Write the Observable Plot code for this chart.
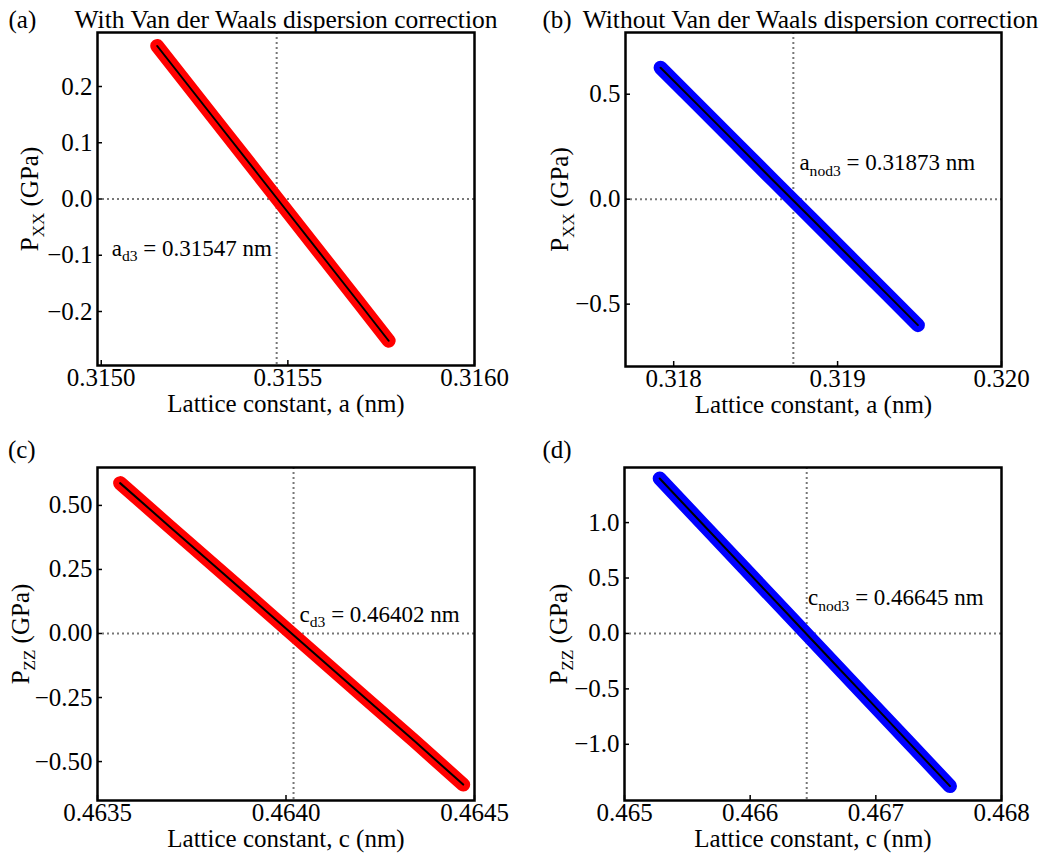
<!DOCTYPE html>
<html>
<head>
<meta charset="utf-8">
<script src="https://cdn.jsdelivr.net/npm/d3@7"></script>
<script src="https://cdn.jsdelivr.net/npm/@observablehq/plot@0.6"></script>
<style>
  html, body { margin: 0; padding: 0; background: #fff; }
  #root { position: relative; width: 1053px; height: 857px; background: #fff; overflow: hidden; }
  #root svg { position: absolute; overflow: visible; font-family: "Liberation Serif", serif; }
  #root svg text, #root svg tspan { font-family: "Liberation Serif", serif; }
</style>
</head>
<body>
<div id="root"></div>
<script>
// ---- data ----
// (a) with D3 correction, lattice constant a
const aD3X = [0.31515, 0.31524, 0.31533, 0.31542, 0.31551, 0.31560, 0.31569, 0.31577];
const aD3P = [0.272, 0.196, 0.120, 0.044, -0.032, -0.108, -0.184, -0.252];
// (b) without D3 correction, lattice constant a
const aNoD3X = [0.31792, 0.31815, 0.31838, 0.31861, 0.31884, 0.31907, 0.31930, 0.31949];
const aNoD3P = [0.626, 0.447, 0.267, 0.087, -0.092, -0.272, -0.451, -0.600];
// (c) with D3 correction, lattice constant c
const cD3X = [0.46356, 0.46369, 0.46382, 0.46395, 0.46408, 0.46421, 0.46434, 0.46447];
const cD3P = [0.587, 0.419, 0.252, 0.084, -0.084, -0.252, -0.419, -0.590];
// (d) without D3 correction, lattice constant c
const cNoD3X = [0.46528, 0.46561, 0.46594, 0.46627, 0.46660, 0.46693, 0.46726, 0.46759];
const cNoD3P = [1.398, 1.001, 0.605, 0.209, -0.188, -0.584, -0.980, -1.377];

// equilibrium lattice constants (zero-pressure points)
const equilibrium = [0.31547, 0.31873, 0.46402, 0.46645];
const annotations = ["a_{d3} = 0.31547 nm", "a_{nod3} = 0.31873 nm", "c_{d3} = 0.46402 nm", "c_{nod3} = 0.46645 nm"];

// tick values
const xTicksA = [0.3150, 0.3155, 0.3160];
const yTicksA = [-0.2, -0.1, 0.0, 0.1, 0.2];
const xTicksB = [0.318, 0.319, 0.320];
const yTicksB = [-0.5, 0.0, 0.5];
const xTicksC = [0.4635, 0.4640, 0.4645];
const yTicksC = [-0.50, -0.25, 0.00, 0.25, 0.50];
const xTicksD = [0.465, 0.466, 0.467, 0.468];
const yTicksD = [-1.0, -0.5, 0.0, 0.5, 1.0];

const letters = ["(a)", "(b)", "(c)", "(d)"];
const titles = ["With Van der Waals dispersion correction", "Without Van der Waals dispersion correction", "", ""];
const xLabels = ["Lattice constant, a (nm)", "Lattice constant, a (nm)", "Lattice constant, c (nm)", "Lattice constant, c (nm)"];
const yLabels = ["P_{XX} (GPa)", "P_{XX} (GPa)", "P_{ZZ} (GPa)", "P_{ZZ} (GPa)"];

// ---- drawing ----
const FONT = "Liberation Serif, serif";
const dotted = {stroke: "#777777", strokeWidth: 2, strokeDasharray: "2,3"};

function subify(svg) {
  svg.querySelectorAll("text").forEach(t => {
    const s = t.textContent;
    if (!s.includes("_{")) return;
    const fs = parseFloat(t.getAttribute("font-size") || t.parentNode.getAttribute("font-size") || 25);
    const shift = fs * 0.24;
    while (t.firstChild) t.removeChild(t.firstChild);
    const re = /_\{([^}]*)\}/g;
    let last = 0, m;
    const ns = "http://www.w3.org/2000/svg";
    while ((m = re.exec(s))) {
      if (m.index > last) {
        const a = document.createElementNS(ns, "tspan");
        a.textContent = s.slice(last, m.index);
        t.appendChild(a);
      }
      const sub = document.createElementNS(ns, "tspan");
      sub.textContent = m[1];
      sub.setAttribute("font-size", (fs * 0.68).toFixed(1));
      sub.setAttribute("dy", shift.toFixed(1));
      t.appendChild(sub);
      last = re.lastIndex;
      const rest = document.createElementNS(ns, "tspan");
      rest.setAttribute("dy", (-shift).toFixed(1));
      rest.textContent = s.slice(last).split("_{")[0];
      t.appendChild(rest);
      last += rest.textContent.length;
      re.lastIndex = last;
    }
  });
}

function panel(p) {
  const data = p.xs.map((x, i) => ({x, y: p.ys[i]}));
  const fw = p.width - p.ml - p.mr;
  const fh = p.height - p.mt - p.mb;
  const svg = Plot.plot({
    width: p.width, height: p.height,
    marginLeft: p.ml, marginRight: p.mr, marginTop: p.mt, marginBottom: p.mb,
    style: {fontFamily: FONT, fontSize: "25px", background: "white", color: "black"},
    x: {domain: p.xDomain, label: null, axis: null},
    y: {domain: p.yDomain, label: null, axis: null},
    marks: [
      Plot.ruleX([p.x0], {x: d => d, ...dotted}),
      Plot.ruleY([0], {y: d => d, ...dotted}),
      Plot.line(data, {x: "x", y: "y", stroke: p.color, strokeWidth: 14, strokeLinecap: "round", strokeLinejoin: "round"}),
      Plot.line(data, {x: "x", y: "y", stroke: "black", strokeWidth: 2}),
      Plot.frame({stroke: "black", strokeWidth: 2.5}),
      Plot.tickX(p.xTicks, {x: d => d, insetTop: fh - 5, stroke: "black", strokeWidth: 1.5}),
      Plot.tickY(p.yTicks, {y: d => d, insetRight: fw - 5, stroke: "black", strokeWidth: 1.5}),
      Plot.axisX(p.xTicks, {tickSize: 0, tickPadding: 3, tickFormat: d3.format(p.xFmt), label: null, fontSize: 25, fontFamily: FONT}),
      Plot.axisY(p.yTicks, {tickSize: 0, tickPadding: 5, tickFormat: d3.format(p.yFmt), label: null, fontSize: 25, fontFamily: FONT}),
      Plot.text([p.xLabel], {text: d => d, frameAnchor: "bottom", lineAnchor: "bottom", dy: 46.5, fontSize: 25, fontFamily: FONT}),
      Plot.text([p.yLabel], {text: d => d, frameAnchor: "left", rotate: -90, lineAnchor: "bottom", textAnchor: "middle", dx: p.yLabelDx, fontSize: 25, fontFamily: FONT}),
      Plot.text([p.letter], {text: d => d, frameAnchor: "top-left", textAnchor: "start", lineAnchor: "bottom", dx: p.letterDx, dy: p.titleDy, fontSize: 25, fontFamily: FONT}),
      Plot.text([p.title], {text: d => d, frameAnchor: "top", textAnchor: "middle", lineAnchor: "bottom", dx: p.titleDx, dy: p.titleDy, fontSize: 25.5, fontFamily: FONT}),
      Plot.text([p.annot], {text: d => d, x: [p.annotX], y: [p.annotY], textAnchor: "start", lineAnchor: "bottom", fontSize: 23, fontFamily: FONT})
    ]
  });
  svg.setAttribute("font-family", FONT);
  subify(svg);
  svg.style.left = p.left + "px";
  svg.style.top = p.top + "px";
  document.getElementById("root").appendChild(svg);
}

panel({left: 0, top: 0, width: 527, height: 428, ml: 97, mr: 53, mt: 32, mb: 63,
  xDomain: [0.31499, 0.31600], yDomain: [-0.296, 0.296],
  xs: aD3X, ys: aD3P, color: "#ff0000", x0: equilibrium[0],
  xTicks: xTicksA, yTicks: yTicksA, xFmt: ".4f", yFmt: ".1f",
  xLabel: xLabels[0], yLabel: yLabels[0], yLabelDx: -59.7,
  letter: letters[0], letterDx: -89, title: titles[0], titleDx: 0, titleDy: -5,
  annot: annotations[0], annotX: 0.315028, annotY: -0.1008});

panel({left: 527, top: 0, width: 526, height: 428, ml: 98, mr: 52, mt: 32, mb: 62,
  xDomain: [0.317706, 0.3200], yDomain: [-0.797, 0.794],
  xs: aNoD3X, ys: aNoD3P, color: "#0000ff", x0: equilibrium[1],
  xTicks: xTicksB, yTicks: yTicksB, xFmt: ".3f", yFmt: ".1f",
  xLabel: xLabels[1], yLabel: yLabels[1], yLabelDx: -58,
  letter: letters[1], letterDx: -83, title: titles[1], titleDx: -3, titleDy: -5,
  annot: annotations[1], annotX: 0.318767, annotY: 0.1367});

panel({left: 0, top: 428, width: 527, height: 429, ml: 97, mr: 53, mt: 39, mb: 57,
  xDomain: [0.4635, 0.4645], yDomain: [-0.652, 0.648],
  xs: cD3X, ys: cD3P, color: "#ff0000", x0: equilibrium[2],
  xTicks: xTicksC, yTicks: yTicksC, xFmt: ".4f", yFmt: ".2f",
  xLabel: xLabels[2], yLabel: yLabels[2], yLabelDx: -68.4,
  letter: letters[2], letterDx: -89.6, title: titles[2], titleDx: 0, titleDy: -9.5,
  annot: annotations[2], annotX: 0.464036, annotY: 0.045});

panel({left: 527, top: 428, width: 526, height: 429, ml: 97, mr: 52, mt: 39, mb: 57,
  xDomain: [0.465, 0.468], yDomain: [-1.507, 1.497],
  xs: cNoD3X, ys: cNoD3P, color: "#0000ff", x0: equilibrium[3],
  xTicks: xTicksD, yTicks: yTicksD, xFmt: ".3f", yFmt: ".1f",
  xLabel: xLabels[3], yLabel: yLabels[3], yLabelDx: -58,
  letter: letters[3], letterDx: -82, title: titles[3], titleDx: 0, titleDy: -9.5,
  annot: annotations[3], annotX: 0.46646, annotY: 0.254});
</script>
</body>
</html>
